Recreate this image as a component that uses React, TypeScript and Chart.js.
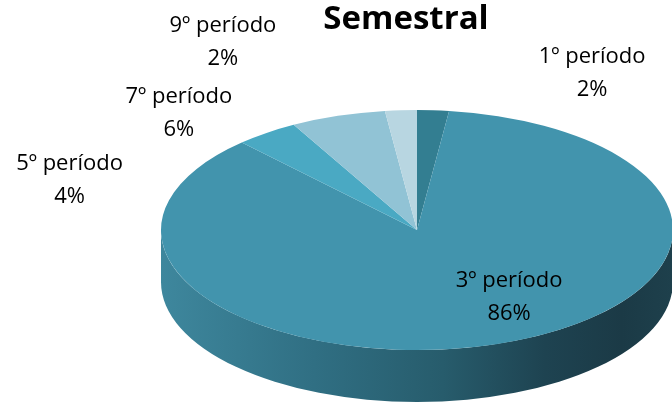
import React, { useEffect, useRef } from "react";
import { Chart, registerables } from "chart.js";

Chart.register(...registerables);

// ---- data ----
const categories = ["1º período", "3º período", "5º período", "7º período", "9º período"];
const values = [2, 86, 4, 6, 2];
const percentLabels = ["2%", "86%", "4%", "6%", "2%"];
const sliceColors = ["#337E91", "#4294AD", "#4AA9C3", "#91C3D5", "#B8D6E1"];
const chartTitle = "Semestral";

// ---- layout (3D look) ----
const CX = 417;
const CY = 230;
const RX = 256;
const RY = 120;
const DEPTH = 52;
const LINE_GAP = 33;
const labelOffsets: [number, number][] = [
  [159, -37],
  [13, -47],
  [-197, 47],
  [-159, -3],
  [-178, -68],
];
const sideStops: [number, string][] = [
  [0, "#3E879D"],
  [0.3, "#306F83"],
  [0.55, "#275C6C"],
  [0.75, "#1E4351"],
  [0.9, "#1B3A46"],
  [1, "#1E404C"],
];

const pie3d = {
  id: "pie3d",
  beforeDatasetsDraw(chart: any) {
    const ctx: CanvasRenderingContext2D = chart.ctx;
    const meta = chart.getDatasetMeta(0);
    const el0: any = meta.data[0];
    if (!el0) return;
    const r = el0.outerRadius;
    const cx = el0.x;
    const cy = el0.y;

    // side walls (front half)
    const grad = ctx.createLinearGradient(CX - RX, 0, CX + RX, 0);
    sideStops.forEach(([o, c]) => grad.addColorStop(o, c));
    meta.data.forEach((el: any) => {
      const a1 = el.startAngle;
      const a2 = el.endAngle;
      for (let k = -2; k <= 2; k++) {
        const lo = Math.max(a1, k * 2 * Math.PI);
        const hi = Math.min(a2, k * 2 * Math.PI + Math.PI);
        if (hi > lo) {
          ctx.save();
          ctx.beginPath();
          ctx.ellipse(CX, CY, RX, RY, 0, lo, hi, false);
          ctx.lineTo(CX + RX * Math.cos(hi), CY + DEPTH + RY * Math.sin(hi));
          ctx.ellipse(CX, CY + DEPTH, RX, RY, 0, hi, lo, true);
          ctx.closePath();
          ctx.fillStyle = grad;
          ctx.fill();
          ctx.restore();
        }
      }
    });

    ctx.save();
    ctx.translate(CX, CY);
    ctx.scale(RX / r, RY / r);
    ctx.translate(-cx, -cy);
  },
  afterDatasetsDraw(chart: any) {
    const ctx: CanvasRenderingContext2D = chart.ctx;
    ctx.restore();
    const meta = chart.getDatasetMeta(0);
    ctx.save();
    ctx.fillStyle = "#000000";
    ctx.font = "22px 'Open Sans'";
    ctx.textAlign = "center";
    ctx.textBaseline = "middle";
    meta.data.forEach((el: any, i: number) => {
      const m = (el.startAngle + el.endAngle) / 2;
      const x = CX + RX * Math.cos(m) + labelOffsets[i][0];
      const y = CY + RY * Math.sin(m) + labelOffsets[i][1];
      ctx.fillText(categories[i], x, y - LINE_GAP / 2);
      ctx.fillText(percentLabels[i], x, y + LINE_GAP / 2);
    });
    ctx.restore();
  },
};

export default function App() {
  const ref = useRef<HTMLCanvasElement | null>(null);
  useEffect(() => {
    if (!ref.current) return;
    const chart = new Chart(ref.current, {
      type: "pie",
      data: {
        labels: categories,
        datasets: [
          {
            data: values,
            backgroundColor: sliceColors,
            borderWidth: 0,
            clip: false,
          } as any,
        ],
      },
      options: {
        responsive: false,
        animation: false,
        events: [],
        layout: { padding: { left: 140, right: 0, top: 0, bottom: 20 } },
        plugins: {
          legend: { display: false },
          tooltip: { enabled: false },
          title: {
            display: true,
            text: chartTitle,
            color: "#000000",
            font: { family: "'Open Sans'", size: 33, weight: "bold" },
            padding: { top: 0, bottom: 10 },
          },
        },
      },
      plugins: [pie3d],
    });
    return () => chart.destroy();
  }, []);
  return (
    <canvas
      ref={ref}
      width={672}
      height={405}
      style={{ position: "absolute", left: 0, top: 0, display: "block" }}
    />
  );
}
